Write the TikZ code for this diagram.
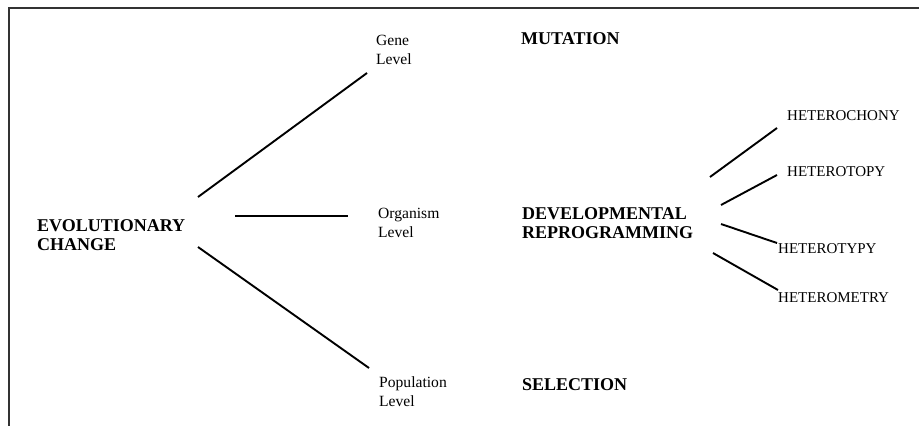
\documentclass[tikz,border=0pt]{standalone}
\usepackage{fontspec}
\setmainfont{Liberation Serif}
\begin{document}
\begin{tikzpicture}[x=1pt,y=-1pt,
  lbl/.style={inner sep=0pt,anchor=base west,align=left,font=\fontsize{15.6}{18.5}\selectfont},
  big/.style={inner sep=0pt,anchor=base west,align=left,font=\fontsize{18}{18.5}\selectfont\bfseries},
  het/.style={inner sep=0pt,anchor=base west,font=\fontsize{15}{18}\selectfont},
  link/.style={line width=1.9pt,black},
  frame/.style={line width=2pt,black!80}]
\useasboundingbox (0,0) rectangle (919,426);
\draw[frame] (919,8) -- (9,8) -- (9,426);
% nodes (base anchor = baseline of last line)
\node[big] (evo) at (37,250) {EVOLUTIONARY\\CHANGE};
\node[lbl] (gene) at (376,64) {Gene\\Level};
\node[lbl] (org) at (378,237) {Organism\\Level};
\node[lbl] (pop) at (379,406) {Population\\Level};
\node[big] (mut) at (521,44) {MUTATION};
\node[big] (dev) at (522,238) {DEVELOPMENTAL\\REPROGRAMMING};
\node[big] (sel) at (522,390) {SELECTION};
\node[het] (h1) at (787,120) {HETEROCHONY};
\node[het] (h2) at (787,176) {HETEROTOPY};
\node[het] (h3) at (778,253) {HETEROTYPY};
\node[het] (h4) at (778,302) {HETEROMETRY};
% connector ends
\coordinate (eg) at (198,197); \coordinate (gg) at (367,73);
\coordinate (eo) at (235,216); \coordinate (oo) at (348,216);
\coordinate (ep) at (198,247); \coordinate (pp) at (369,368);
\coordinate (d1) at (710,177); \coordinate (t1) at (777,128);
\coordinate (d2) at (721,205); \coordinate (t2) at (777,175);
\coordinate (d3) at (721,224); \coordinate (t3) at (777,243);
\coordinate (d4) at (713,253); \coordinate (t4) at (778,290);
\draw[link] (eg) -- (gg);
\draw[link] (eo) -- (oo);
\draw[link] (ep) -- (pp);
\draw[link] (d1) -- (t1);
\draw[link] (d2) -- (t2);
\draw[link] (d3) -- (t3);
\draw[link] (d4) -- (t4);
\end{tikzpicture}
\end{document}
